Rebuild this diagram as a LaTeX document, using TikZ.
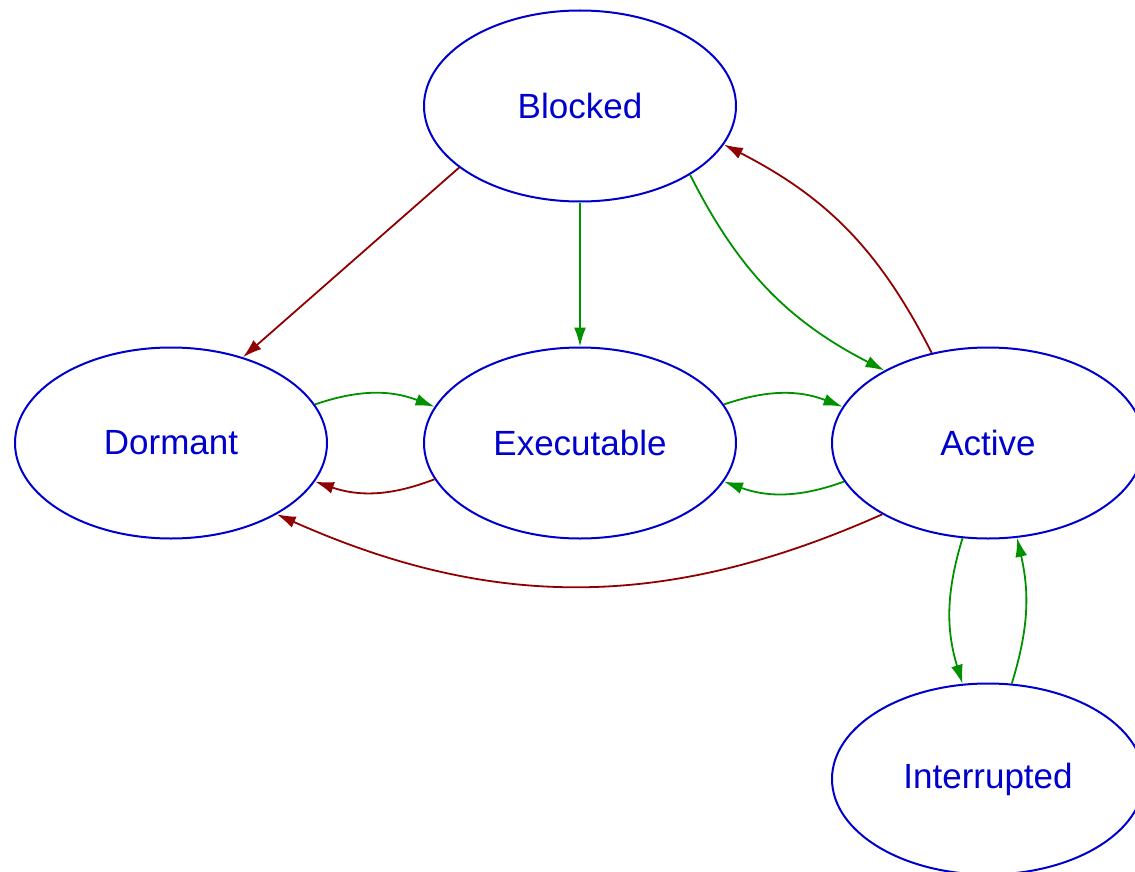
\documentclass[tikz,border=0pt]{standalone}
\usepackage{fontspec}
\setmainfont{Liberation Sans}
\usetikzlibrary{shapes.geometric,arrows.meta}
\definecolor{stateblue}{RGB}{0,0,205}
\definecolor{gogreen}{RGB}{0,145,0}
\definecolor{backred}{RGB}{145,0,0}
\begin{document}
\begin{tikzpicture}
[x=1pt, y=-1pt,
 state/.style={draw=stateblue, ellipse, line width=2pt, inner sep=0pt,
   minimum width=312pt, minimum height=191pt, text=stateblue,
   font=\fontsize{35}{42}\selectfont},
 go/.style={draw=gogreen, line width=1.8pt, -{Latex[length=19pt,width=12pt]}},
 back/.style={draw=backred, line width=1.8pt, -{Latex[length=19pt,width=12pt]}}]
\useasboundingbox (0,0) rectangle (1135,872);
\clip (0,0) rectangle (1135,872);

% the five task states
\node[state] (blocked)     at (580,106) {Blocked};
\node[state] (dormant)     at (171,443) {Dormant};
\node[state] (executable)  at (580,443) {Executable};
\node[state] (active)      at (988,443) {Active};
\node[state] (interrupted) at (988,779) {Interrupted};

% transitions
\draw[back] (blocked.207) -- (dormant.50);
\draw[go] (blocked.south) -- (executable.north);
\draw[go] (blocked.328) to[bend right=18] (active.145);
\draw[back] (active.122) to[bend right=18] (blocked.345);
\draw[go] (dormant.15) to[bend left=20] (executable.166);
\draw[back] (executable.194) to[bend left=20] (dormant.345);
\draw[go] (executable.15) to[bend left=20] (active.166);
\draw[go] (active.195) to[bend left=20] (executable.345);
\draw[back] (active.214) to[bend left=24] (dormant.326);
\draw[go] (active.255) to[bend right=17] (interrupted.105);
\draw[go] (interrupted.76) to[bend right=15] (active.287);
\end{tikzpicture}
\end{document}
